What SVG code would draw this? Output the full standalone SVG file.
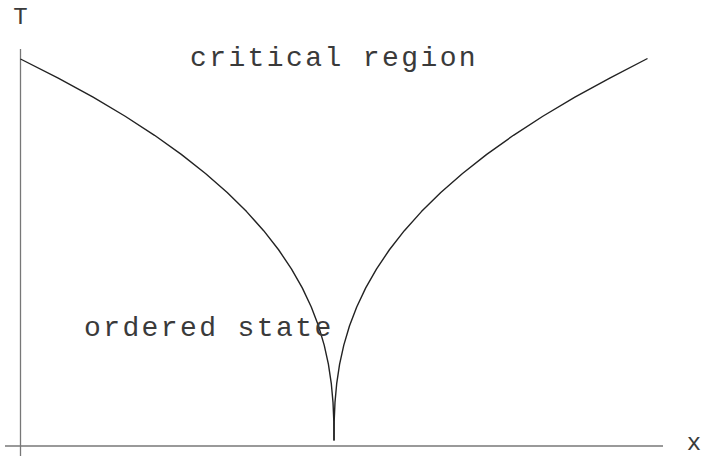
<svg xmlns="http://www.w3.org/2000/svg" width="704" height="456" viewBox="0 0 704 456">
<style>
.lbl{font-family:"Liberation Mono","DejaVu Sans Mono",monospace;font-size:28px;fill:#3a3a3a;letter-spacing:2.4px}
.ax{font-family:"Liberation Mono","DejaVu Sans Mono",monospace;font-size:24px;fill:#3a3a3a}
.axis{stroke:#777;stroke-width:1.3;fill:none}
.curve{stroke:#222;stroke-width:1.4;fill:none;stroke-linejoin:round}
</style>
<rect width="704" height="456" fill="#fff"/>
<g id="axes">
<line class="axis" x1="20.5" y1="49" x2="20.5" y2="456"/>
<line class="axis" x1="5" y1="446" x2="663" y2="446"/>
<text id="label-T" class="ax" x="20.5" y="24" text-anchor="middle">T</text>
<text id="label-x" class="ax" x="694" y="450" text-anchor="middle">x</text>
</g>
<g id="connectors">
<polyline class="curve" points="20.5,59 58.23,78.08 93.1,97.15 125.18,116.23 154.54,135.3 181.28,154.38 205.48,173.45 227.21,192.53 246.58,211.6 263.67,230.68 278.58,249.75 291.41,268.83 302.28,287.9 311.28,306.98 318.55,326.05 324.2,345.13 328.39,364.2 331.27,383.28 333.01,402.35 333.83,421.43 334,440.5"/>
<polyline class="curve" points="334,440.5 334.17,421.43 334.99,402.35 336.73,383.28 339.61,364.2 343.8,345.13 349.45,326.05 356.72,306.98 365.72,287.9 376.59,268.83 389.42,249.75 404.33,230.68 421.42,211.6 440.79,192.53 462.52,173.45 486.72,154.38 513.46,135.3 542.83,116.23 574.9,97.15 609.77,78.08 647.5,58.5"/>
</g>
<g id="critical-region"><text class="lbl" x="190" y="66">critical region</text></g>
<g id="ordered-state"><text class="lbl" x="84" y="336">ordered state</text></g>
</svg>
